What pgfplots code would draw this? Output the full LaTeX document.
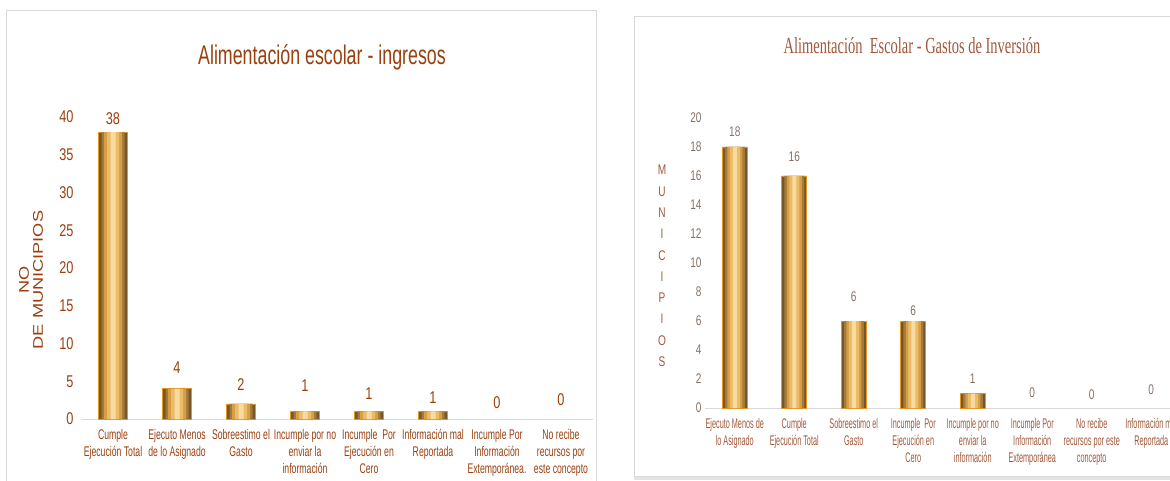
\documentclass[border=0pt]{standalone}
\usepackage{pgfplots}
\pgfplotsset{compat=1.18}
\usepackage{fontspec}
\setmainfont{Liberation Sans}
\newfontfamily\titleA[FakeStretch=0.66]{Liberation Sans}
\newfontfamily\numA[FakeStretch=0.75]{Liberation Sans}
\newfontfamily\catA[FakeStretch=0.62]{Liberation Sans}
\newfontfamily\ylabA[FakeStretch=1.3]{Liberation Sans}
\newfontfamily\titleB[FakeStretch=0.63]{Liberation Serif}
\newfontfamily\numB[FakeStretch=0.72]{Liberation Sans}
\newfontfamily\catB[FakeStretch=0.52]{Liberation Sans}
\definecolor{brownA}{HTML}{9A3F0E}
\definecolor{brownB}{HTML}{A0583A}
\definecolor{greyB}{HTML}{857268}
\definecolor{barA}{HTML}{76552C}
\definecolor{barB}{HTML}{A27A3A}
\definecolor{barC}{HTML}{D69E46}
\definecolor{barD}{HTML}{ECBB66}
\definecolor{barE}{HTML}{F7DCA2}
\definecolor{barEdge}{HTML}{E8961E}
\definecolor{frame}{HTML}{D9D9D9}

\pgfplotstableread{
x y off
0 38 13
1 4 21
2 2 19
3 1 26
4 1 18
5 1 14
6 0 16
7 0 19
}\dataA
\pgfplotstableread{
x y off
0 18 15
1 16 19
2 6 24
3 6 10
4 1 15
5 0 15
6 0 13
7 0 18
}\dataB

\pgfplotsset{
  layer/.style={ybar, bar shift=0pt, draw=none, fill=#1,
    y filter/.expression={y==0 ? nan : y}},
  common/.style={scale only axis, xmin=-0.5, xmax=7.5, ymin=0,
    axis x line*=bottom, axis y line*=left,
    x axis line style={draw=frame, line width=1pt},
    y axis line style={draw=none},
    xtick style={draw=none}, ytick style={draw=none},
    xtick={0,...,7}, clip=false,
    /pgf/number format/assume math mode=true,
    xticklabel style={align=center, yshift=-7pt}},
}

\begin{document}
\begin{tikzpicture}[x=1pt,y=1pt]
\useasboundingbox (0,0) rectangle (1170,480);
\begin{scope}
\clip (0,0) rectangle (1170,480);
% panel frames
\draw[frame, line width=1pt] (6,-10) rectangle (596,469);
\fill[frame!70] (634,0) rectangle (1190,4);
\draw[frame, line width=1pt] (634,4) rectangle (1190,463);

% titles
\node[text=brownA, font=\titleA\fontsize{27}{30}\selectfont] at (322,423) {Alimentación escolar - ingresos};
\node[text=brownB, font=\titleB\fontsize{23}{26}\selectfont] at (912,434) {Alimentación\ \ Escolar - Gastos de Inversión};

% y labels
\node[rotate=90, align=center, text=brownA, font=\ylabA\fontsize{14}{14}\selectfont] at (31,200) {NO\\DE MUNICIPIOS};
\node[align=center, text=brownB, font=\numB\fontsize{14}{21.3}\selectfont] at (662,214) {M\\U\\N\\I\\C\\I\\P\\I\\O\\S};

% left chart
\begin{axis}[common, at={(81pt,61pt)}, anchor=south west,
  width=512pt, height=302pt, ymax=40, ytick={0,5,...,40},
  yticklabel style={text=brownA, xshift=-4pt, font=\numA\fontsize{17}{19}\selectfont},
  xticklabel style={text=brownA, font=\catA\fontsize{14}{16.7}\selectfont},
  xticklabels={{Cumple\\Ejecución Total},{Ejecuto Menos\\de lo Asignado},{Sobreestimo el\\Gasto},{Incumple por no\\enviar la\\información},{Incumple\ \ Por\\Ejecución en\\Cero},{Información mal\\Reportada},{Incumple Por\\Información\\Extemporánea.},{No recibe\\recursos por\\este concepto}}]
\addplot[layer=barA, bar width=29pt, draw=barEdge, line width=0.7pt] table[x=x,y=y] {\dataA};
\addplot[layer=barB, bar width=23pt] table[x=x,y=y] {\dataA};
\addplot[layer=barC, bar width=18pt] table[x=x,y=y] {\dataA};
\addplot[layer=barD, bar width=12pt] table[x=x,y=y] {\dataA};
\addplot[layer=barE, bar width=5pt] table[x=x,y=y] {\dataA};
\addplot[ybar, bar shift=0pt, bar width=29pt, draw=none, fill=none,
  nodes near coords,
  visualization depends on={\thisrow{off}\as\off},
  every node near coord/.style={anchor=center, yshift=\off pt, text=brownA, font=\numA\fontsize{17}{19}\selectfont}]
  table[x=x,y=y] {\dataA};
\end{axis}

% right chart
\begin{axis}[common, at={(705pt,72pt)}, anchor=south west,
  width=476pt, height=290pt, ymax=20, ytick={0,2,...,20},
  yticklabel style={text=greyB, font=\numB\fontsize{14}{16}\selectfont},
  xticklabel style={text=brownB, font=\catB\fontsize{14}{16.7}\selectfont},
  xticklabels={{Ejecuto Menos de\\lo Asignado},{Cumple\\Ejecución Total},{Sobreestimo el\\Gasto},{Incumple\ \ Por\\Ejecución en\\Cero},{Incumple por no\\enviar la\\información},{Incumple Por\\Información\\Extemporánea},{No recibe\\recursos por este\\concepto},{Información mal\\Reportada}}]
\addplot[layer=barA, bar width=25pt, draw=barEdge, line width=0.7pt] table[x=x,y=y] {\dataB};
\addplot[layer=barB, bar width=20pt] table[x=x,y=y] {\dataB};
\addplot[layer=barC, bar width=15pt] table[x=x,y=y] {\dataB};
\addplot[layer=barD, bar width=10pt] table[x=x,y=y] {\dataB};
\addplot[layer=barE, bar width=4pt] table[x=x,y=y] {\dataB};
\addplot[ybar, bar shift=0pt, bar width=25pt, draw=none, fill=none,
  nodes near coords,
  visualization depends on={\thisrow{off}\as\off},
  every node near coord/.style={anchor=center, yshift=\off pt, text=greyB, font=\numB\fontsize{14}{16}\selectfont}]
  table[x=x,y=y] {\dataB};
\end{axis}
\end{scope}
\end{tikzpicture}
\end{document}
